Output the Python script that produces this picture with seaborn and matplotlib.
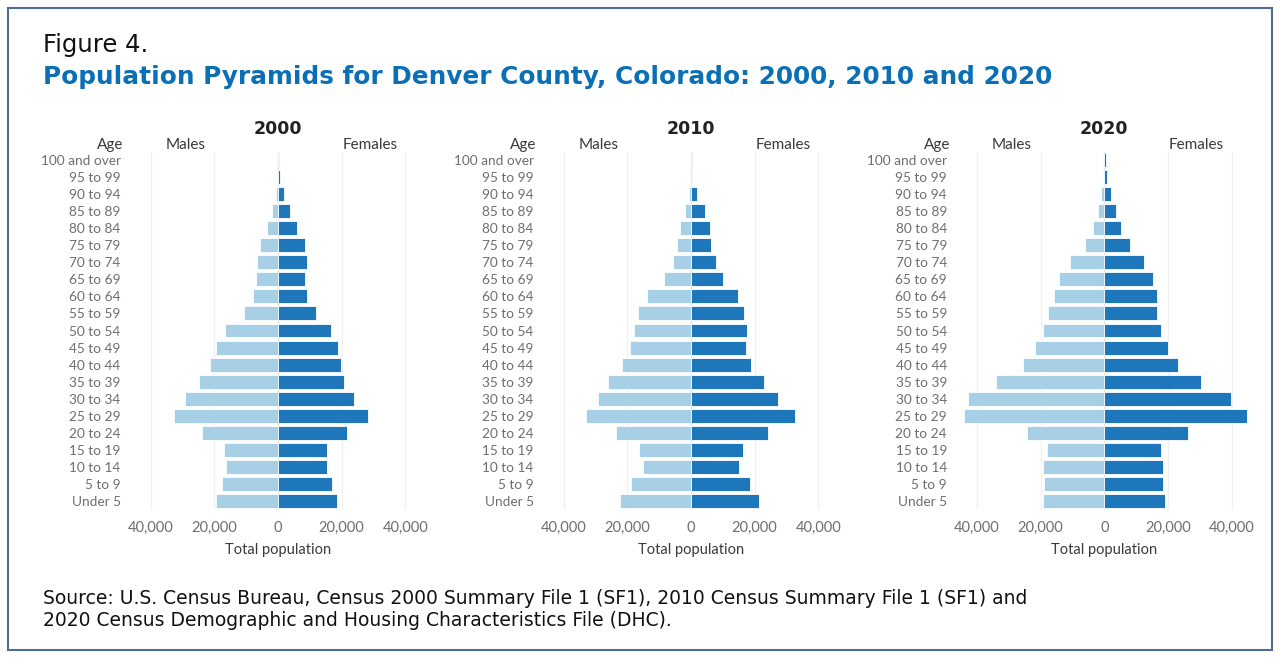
import numpy as np
import pandas as pd
import matplotlib
matplotlib.use("Agg")
import matplotlib.pyplot as plt
from matplotlib.patches import Rectangle
import seaborn as sns

# Age groups, top of the pyramid first
ages = ["100 and over", "95 to 99", "90 to 94", "85 to 89", "80 to 84",
        "75 to 79", "70 to 74", "65 to 69", "60 to 64", "55 to 59",
        "50 to 54", "45 to 49", "40 to 44", "35 to 39", "30 to 34",
        "25 to 29", "20 to 24", "15 to 19", "10 to 14", "5 to 9", "Under 5"]

years = ["2000", "2010", "2020"]

males_2000 = [100, 300, 700, 1900, 3600, 5700, 6500, 7000, 8000, 10800,
              16700, 19400, 21500, 24700, 29200, 32600, 24000, 17000,
              16400, 17700, 19400]
females_2000 = [300, 600, 1800, 3900, 5900, 8400, 9000, 8400, 9000, 11900,
                16700, 18800, 19700, 20900, 23900, 28300, 21800, 15300,
                15300, 17000, 18400]

males_2010 = [100, 200, 500, 2000, 3500, 4400, 5800, 8600, 13800, 16600,
              17900, 19300, 21800, 26200, 29200, 33100, 23500, 16200,
              15200, 18900, 22400]
females_2010 = [300, 400, 1900, 4400, 6100, 6400, 7800, 10200, 14700, 16800,
                17700, 17400, 18900, 23000, 27500, 32700, 24300, 16400,
                15000, 18400, 21300]

males_2020 = [100, 200, 900, 2100, 3500, 6000, 10700, 14200, 15900, 17600,
              19400, 21800, 25700, 33900, 43000, 44200, 24200, 17900,
              19400, 19100, 19400]
females_2020 = [400, 800, 2200, 3600, 5300, 8100, 12600, 15300, 16700, 16700,
                17700, 20100, 23300, 30500, 39800, 44800, 26300, 17700,
                18400, 18400, 19000]

males = {"2000": males_2000, "2010": males_2010, "2020": males_2020}
females = {"2000": females_2000, "2010": females_2010, "2020": females_2020}

male_color = "#a7cfe6"
female_color = "#1f77bb"
title_blue = "#0b6fb6"
tick_gray = "#6e6e6e"
text_dark = "#3a3a3a"

sns.set_theme(style="white")
plt.rcParams["font.family"] = ["Lato", "DejaVu Sans"]
wide = ["DejaVu Sans"]

W, H = 1280, 663
fig = plt.figure(figsize=(W / 100, H / 100), dpi=100)

# outer frame
fig.patches.append(Rectangle((8 / W, 1 - 650 / H), 1264 / W, 642 / H,
                             transform=fig.transFigure, fill=False,
                             edgecolor="#4f6d9a", linewidth=1.5))

fig.text(43 / W, 1 - 45 / H, "Figure 4.", fontsize=17.5, color="#111111",
         va="center", ha="left", family=wide)
fig.text(43 / W, 1 - 77 / H,
         "Population Pyramids for Denver County, Colorado: 2000, 2010 and 2020",
         fontsize=17.8, fontweight="bold", color=title_blue,
         va="center", ha="left", family=wide)

fig.text(43 / W, 1 - 598 / H,
         "Source: U.S. Census Bureau, Census 2000 Summary File 1 (SF1), 2010 Census Summary File 1 (SF1) and",
         fontsize=13.5, color="#111111", va="center", ha="left", family=wide)
fig.text(43 / W, 1 - 620 / H,
         "2020 Census Demographic and Housing Characteristics File (DHC).",
         fontsize=13.5, color="#111111", va="center", ha="left", family=wide)

xlim = 46000
px_per_k = 3.18
ax_w = 2 * xlim / 1000 * px_per_k
centers = [278, 691, 1104.3]
top_px, bot_px = 151.5, 509.5

for year, cx in zip(years, centers):
    left = cx - ax_w / 2
    ax = fig.add_axes([left / W, 1 - bot_px / H, ax_w / W, (bot_px - top_px) / H])
    df = pd.DataFrame({"age": ages,
                       "male": -np.array(males[year]),
                       "female": np.array(females[year])})
    for xv in [-40000, -20000, 20000, 40000]:
        ax.axvline(xv, color="#f0f0f0", lw=0.9, zorder=0)
    ax.axvline(0, color="#e4e4e4", lw=0.9, zorder=0)
    sns.barplot(data=df, x="male", y="age", order=ages, color=male_color,
                width=0.82, saturation=1, edgecolor="white", linewidth=0.6,
                orient="h", ax=ax)
    sns.barplot(data=df, x="female", y="age", order=ages, color=female_color,
                width=0.82, saturation=1, edgecolor="white", linewidth=0.6,
                orient="h", ax=ax)
    ax.set_xlim(-xlim, xlim)
    ax.set_ylim(len(ages) - 0.5, -0.5)
    ticks = [-40000, -20000, 0, 20000, 40000]
    ax.set_xticks(ticks)
    ax.set_xticklabels([f"{abs(t):,}" for t in ticks])
    ax.tick_params(axis="x", labelsize=10.5, colors=tick_gray, length=0, pad=8)
    ax.tick_params(axis="y", labelsize=9.8, colors=tick_gray, length=0, pad=8)
    ax.set_ylabel("")
    ax.set_xlabel("Total population", fontsize=10.5, color=text_dark, labelpad=6)
    for s in ax.spines.values():
        s.set_visible(False)
    ax.set_facecolor("none")

    ax.text(0, 1.062, year, transform=ax.get_xaxis_transform(), ha="center",
            va="center", fontsize=12.5, fontweight="bold", color="#222222",
            family=wide)
    ax.text(-29000, 1.018, "Males", transform=ax.get_xaxis_transform(),
            ha="center", va="center", fontsize=11, color=text_dark)
    ax.text(29000, 1.018, "Females", transform=ax.get_xaxis_transform(),
            ha="center", va="center", fontsize=11, color=text_dark)
    ax.text(-8 / ax_w, 1.018, "Age", transform=ax.transAxes,
            ha="right", va="center", fontsize=11, color=text_dark)

fig.savefig("out.png", dpi=100)
